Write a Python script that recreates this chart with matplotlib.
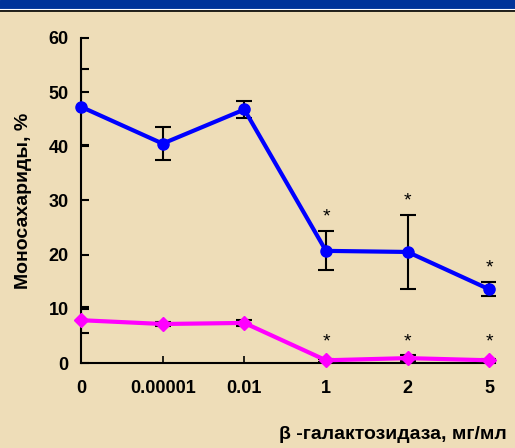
import matplotlib.pyplot as plt
from matplotlib.patches import Rectangle
from matplotlib.lines import Line2D

plt.rcParams['font.family'] = ['Liberation Sans', 'DejaVu Sans']

categories = ['0', '0.00001', '0.01', '1', '2', '5']

blue_vals = [47.3, 40.5, 46.8, 20.7, 20.5, 13.6]
blue_err = [7.0, 3.0, 1.6, 3.6, 6.8, 1.3]
blue_star = [False, False, False, True, True, True]

pink_vals = [7.9, 7.2, 7.4, 0.5, 0.9, 0.5]
pink_err = [2.4, 0.4, 0.6, 0.3, 0.5, 0.2]
pink_star = [False, False, False, True, True, True]

bg = '#EEDDB8'
fig = plt.figure(figsize=(5.15, 4.48), dpi=100, facecolor=bg)

# blue header band
fig.patches.append(Rectangle((0, 1 - 9 / 448), 1, 9 / 448, transform=fig.transFigure,
                             color='#003399', zorder=0))
fig.lines.append(Line2D([0, 1], [1 - 9.5 / 448] * 2, transform=fig.transFigure,
                        color='white', lw=0.8))
fig.lines.append(Line2D([0, 1], [1 - 10.8 / 448] * 2, transform=fig.transFigure,
                        color='black', lw=1.2))

ax = fig.add_axes([81 / 515, 85 / 448, 414 / 515, 325 / 448])
ax.set_facecolor('none')

x = list(range(len(categories)))

ax.errorbar(x, blue_vals, yerr=blue_err, fmt='none', ecolor='black',
            elinewidth=1.5, capsize=5.5, capthick=1.5, zorder=2)
ax.plot(x, blue_vals, color='#0000FF', lw=3, marker='o', markersize=8, zorder=3,
        clip_on=False)

ax.errorbar(x, pink_vals, yerr=pink_err, fmt='none', ecolor='black',
            elinewidth=1.5, capsize=5.5, capthick=1.5, zorder=2)
ax.plot(x, pink_vals, color='#FF00FF', lw=3, marker='D', markersize=7.5, zorder=3,
        clip_on=False)

for i in x:
    if blue_star[i]:
        ax.text(i, blue_vals[i] + blue_err[i] + 1.0, '*', ha='center', va='bottom',
                fontsize=14)
    if pink_star[i]:
        ax.text(i, 2.3, '*', ha='center', va='bottom', fontsize=14)

ax.set_xlim(0, 5.07)
ax.set_ylim(0, 60)
ax.set_xticks(x)
ax.set_xticklabels(categories, fontsize=13, fontweight='bold')
ax.set_yticks(range(0, 61, 10))
ax.set_yticklabels([str(v) for v in range(0, 61, 10)], fontsize=13, fontweight='bold')
ax.tick_params(axis='y', direction='in', length=6, width=1.5, pad=9)
ax.tick_params(axis='x', direction='in', length=5, width=1.2, pad=12)

for s in ['top', 'right']:
    ax.spines[s].set_visible(False)
for s in ['left', 'bottom']:
    ax.spines[s].set_linewidth(1.5)

ax.set_ylabel('Моносахариды, %', fontsize=14, fontweight='bold', labelpad=12)
fig.text(507 / 515, 1 - 434 / 448, 'β -галактозидаза, мг/мл', ha='right', va='center',
         fontsize=14, fontweight='bold')

fig.savefig('out.png', dpi=100, facecolor=bg)
